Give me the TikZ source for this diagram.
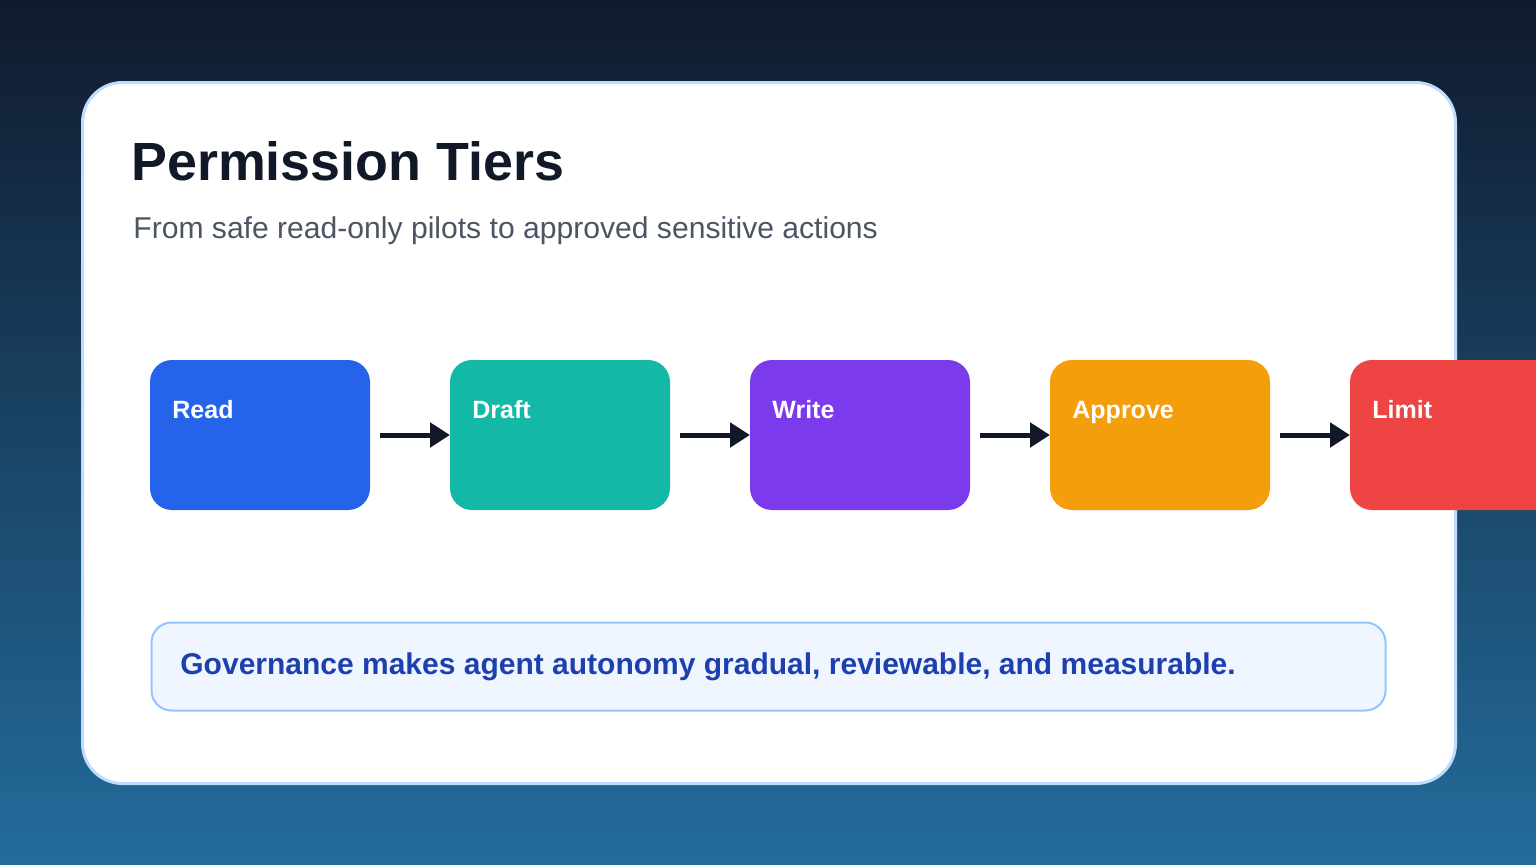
\documentclass[tikz,border=0pt]{standalone}
\usepackage{fontspec}
\setmainfont{Liberation Sans}
\usepackage{xcolor}
\usetikzlibrary{positioning, arrows.meta, calc}
\definecolor{bgTop}{HTML}{101A2D}
\definecolor{bgBottom}{HTML}{236C9C}
\definecolor{cardEdge}{HTML}{BFDBFE}
\definecolor{inkDark}{HTML}{111827}
\definecolor{inkGray}{HTML}{4B5563}
\definecolor{tierRead}{HTML}{2563EB}
\definecolor{tierDraft}{HTML}{14B8A6}
\definecolor{tierWrite}{HTML}{7C3AED}
\definecolor{tierApprove}{HTML}{F59E0B}
\definecolor{tierLimit}{HTML}{EF4444}
\definecolor{noteFill}{HTML}{EFF6FF}
\definecolor{noteEdge}{HTML}{93C5FD}
\definecolor{noteInk}{HTML}{1E40AF}

\begin{document}
\begin{tikzpicture}[
    x=0.5pt, y=-0.5pt,
    node distance=40pt,
    tier/.style={rectangle, minimum width=110pt, minimum height=75pt, rounded corners=11pt, inner sep=0pt, outer sep=0pt},
    tiertext/.style={anchor=base west, inner sep=0pt, text=white, font=\fontsize{12.5}{15}\selectfont\bfseries},
    arrow/.style={-{Triangle[length=10pt, width=12pt]}, line width=2.5pt, draw=inkDark}
]
\useasboundingbox (0,0) rectangle (1536,864);
% Background
\shade[top color=bgTop, bottom color=bgBottom] (0,0) rectangle (1536,864);
\node[rectangle, fill=white, draw=cardEdge, line width=1.5pt, rounded corners=20pt,
      minimum width=686.5pt, minimum height=350.5pt, anchor=north west] (card) at (81,81) {};

% Heading
\node[anchor=base west, inner sep=0pt, text=inkDark, font=\fontsize{26.9}{32}\selectfont\bfseries] (title) at (131,180) {Permission Tiers};
\node[anchor=base west, inner sep=0pt, text=inkGray, font=\fontsize{15.05}{18}\selectfont] (subtitle) at (133,238) {From safe read-only pilots to approved sensitive actions};

% Tiers
\node[tier, fill=tierRead, anchor=north west] (read) at (150,360) {};
\node[tier, fill=tierDraft, right=of read] (draft) {};
\node[tier, fill=tierWrite, right=of draft] (write) {};
\node[tier, fill=tierApprove, right=of write] (approve) {};
\node[tier, fill=tierLimit, right=of approve] (limit) {};

\node[tiertext] at ($(read.north west)+(22,58)$) {Read};
\node[tiertext] at ($(draft.north west)+(22,58)$) {Draft};
\node[tiertext] at ($(write.north west)+(22,58)$) {Write};
\node[tiertext] at ($(approve.north west)+(22,58)$) {Approve};
\node[tiertext] at ($(limit.north west)+(22,58)$) {Limit};

% Arrows
\draw[arrow] ([xshift=5pt]read.east) -- (draft.west);
\draw[arrow] ([xshift=5pt]draft.east) -- (write.west);
\draw[arrow] ([xshift=5pt]write.east) -- (approve.west);
\draw[arrow] ([xshift=5pt]approve.east) -- (limit.west);

% Note
\node[rectangle, fill=noteFill, draw=noteEdge, line width=1pt, rounded corners=10pt,
      minimum width=617pt, minimum height=44pt, anchor=north west] (note) at (150.5,621.5) {};
\node[anchor=base west, inner sep=0pt, text=noteInk, font=\fontsize{15}{18}\selectfont\bfseries] at (180,674) {Governance makes agent autonomy gradual, reviewable, and measurable.};
\end{tikzpicture}
\end{document}
